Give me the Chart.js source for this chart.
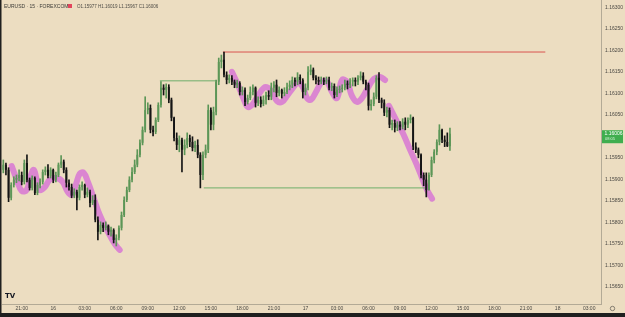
<!DOCTYPE html>
<html>
<head>
<meta charset="utf-8">
<script src="https://cdn.jsdelivr.net/npm/chart.js@4.4.1/dist/chart.umd.min.js"></script>
<style>
  html, body { margin: 0; padding: 0; background: #ecddc1; }
  #wrap { width: 625px; height: 317px; position: relative; }
</style>
</head>
<body>
<div id="wrap"><canvas id="priceChart"></canvas></div>
<script>
// EURUSD 15m candles, first bar = day 15 19:15
const opens = [
  1.15922, 1.15934, 1.15922, 1.15857, 1.15887, 1.15899, 1.15903, 1.15910, 1.15894, 1.15938,
  1.15899, 1.15880, 1.15903, 1.15868, 1.15887, 1.15894, 1.15917, 1.15922, 1.15908, 1.15922,
  1.15899, 1.15910, 1.15934, 1.15941, 1.15922, 1.15892, 1.15882, 1.15862, 1.15871, 1.15857,
  1.15882, 1.15887, 1.15864, 1.15871, 1.15845, 1.15852, 1.15806, 1.15778, 1.15794, 1.15787,
  1.15792, 1.15778, 1.15782, 1.15759, 1.15764, 1.15787, 1.15817, 1.15852, 1.15875, 1.15899,
  1.15917, 1.15934, 1.15957, 1.15985, 1.16015, 1.16061, 1.16066, 1.16015, 1.16010, 1.16038,
  1.16073, 1.16113, 1.16108, 1.16115, 1.16085, 1.16043, 1.15996, 1.15980, 1.15992, 1.15969,
  1.15980, 1.15996, 1.15987, 1.15973, 1.15980, 1.15957, 1.15910, 1.15957, 1.15969, 1.16061,
  1.16027, 1.16057, 1.16127, 1.16173, 1.16178, 1.16143, 1.16131, 1.16136, 1.16127, 1.16120,
  1.16124, 1.16103, 1.16108, 1.16080, 1.16089, 1.16103, 1.16113, 1.16078, 1.16085, 1.16075,
  1.16085, 1.16096, 1.16092, 1.16113, 1.16120, 1.16101, 1.16108, 1.16099, 1.16103, 1.16115,
  1.16120, 1.16131, 1.16127, 1.16138, 1.16131, 1.16103, 1.16113, 1.16150, 1.16155, 1.16136,
  1.16131, 1.16127, 1.16131, 1.16127, 1.16131, 1.16113, 1.16117, 1.16096, 1.16108, 1.16110,
  1.16113, 1.16122, 1.16120, 1.16127, 1.16131, 1.16127, 1.16136, 1.16141, 1.16127, 1.16120,
  1.16071, 1.16075, 1.16092, 1.16136, 1.16085, 1.16078, 1.16055, 1.16061, 1.16027, 1.16031,
  1.16020, 1.16027, 1.16022, 1.16034, 1.16027, 1.16038, 1.16043, 1.15976, 1.15969, 1.15957,
  1.15910, 1.15899, 1.15875, 1.15910, 1.15945, 1.15964, 1.15987, 1.16015, 1.15992, 1.15987,
  1.15977
];
const highs = [
  1.15945, 1.15938, 1.15927, 1.15892, 1.15906, 1.15910, 1.15922, 1.15917, 1.15945, 1.15957,
  1.15903, 1.15908, 1.15906, 1.15892, 1.15901, 1.15922, 1.15929, 1.15934, 1.15927, 1.15924,
  1.15917, 1.15938, 1.15955, 1.15945, 1.15927, 1.15899, 1.15889, 1.15878, 1.15875, 1.15887,
  1.15894, 1.15889, 1.15880, 1.15875, 1.15862, 1.15864, 1.15813, 1.15801, 1.15799, 1.15801,
  1.15794, 1.15789, 1.15785, 1.15771, 1.15792, 1.15824, 1.15859, 1.15882, 1.15906, 1.15927,
  1.15945, 1.15969, 1.15992, 1.16022, 1.16092, 1.16078, 1.16073, 1.16024, 1.16043, 1.16078,
  1.16127, 1.16120, 1.16122, 1.16120, 1.16089, 1.16045, 1.16008, 1.16001, 1.15996, 1.15992,
  1.16008, 1.16003, 1.15999, 1.15989, 1.15992, 1.15962, 1.15964, 1.15980, 1.16073, 1.16066,
  1.16068, 1.16131, 1.16182, 1.16189, 1.16196, 1.16150, 1.16143, 1.16141, 1.16131, 1.16131,
  1.16127, 1.16115, 1.16113, 1.16096, 1.16115, 1.16120, 1.16115, 1.16092, 1.16092, 1.16094,
  1.16103, 1.16106, 1.16124, 1.16127, 1.16131, 1.16115, 1.16110, 1.16113, 1.16124, 1.16129,
  1.16138, 1.16136, 1.16148, 1.16143, 1.16134, 1.16122, 1.16162, 1.16166, 1.16159, 1.16141,
  1.16138, 1.16138, 1.16136, 1.16138, 1.16138, 1.16124, 1.16122, 1.16115, 1.16117, 1.16120,
  1.16131, 1.16129, 1.16134, 1.16136, 1.16136, 1.16141, 1.16150, 1.16148, 1.16131, 1.16124,
  1.16085, 1.16101, 1.16141, 1.16148, 1.16089, 1.16085, 1.16068, 1.16066, 1.16038, 1.16038,
  1.16034, 1.16034, 1.16041, 1.16043, 1.16043, 1.16050, 1.16045, 1.15985, 1.15973, 1.15959,
  1.15915, 1.15915, 1.15915, 1.15952, 1.15969, 1.15992, 1.16027, 1.16017, 1.16001, 1.16008,
  1.16019
];
const lows = [
  1.15915, 1.15910, 1.15848, 1.15852, 1.15882, 1.15892, 1.15896, 1.15887, 1.15889, 1.15894,
  1.15875, 1.15875, 1.15864, 1.15864, 1.15880, 1.15889, 1.15910, 1.15903, 1.15903, 1.15892,
  1.15894, 1.15906, 1.15927, 1.15915, 1.15882, 1.15875, 1.15857, 1.15857, 1.15829, 1.15852,
  1.15875, 1.15857, 1.15859, 1.15836, 1.15841, 1.15801, 1.15759, 1.15773, 1.15778, 1.15782,
  1.15771, 1.15768, 1.15752, 1.15745, 1.15759, 1.15782, 1.15813, 1.15848, 1.15871, 1.15894,
  1.15913, 1.15929, 1.15952, 1.15980, 1.16010, 1.16052, 1.16008, 1.16001, 1.16006, 1.16034,
  1.16068, 1.16096, 1.16089, 1.16078, 1.16036, 1.15989, 1.15969, 1.15964, 1.15917, 1.15957,
  1.15973, 1.15976, 1.15966, 1.15964, 1.15950, 1.15880, 1.15899, 1.15950, 1.15962, 1.16015,
  1.16015, 1.16050, 1.16120, 1.16159, 1.16138, 1.16122, 1.16124, 1.16120, 1.16113, 1.16113,
  1.16096, 1.16096, 1.16071, 1.16075, 1.16085, 1.16096, 1.16068, 1.16071, 1.16068, 1.16071,
  1.16075, 1.16085, 1.16085, 1.16103, 1.16092, 1.16094, 1.16089, 1.16094, 1.16099, 1.16108,
  1.16113, 1.16117, 1.16120, 1.16122, 1.16089, 1.16096, 1.16108, 1.16143, 1.16131, 1.16122,
  1.16120, 1.16122, 1.16120, 1.16122, 1.16108, 1.16106, 1.16089, 1.16092, 1.16101, 1.16103,
  1.16108, 1.16110, 1.16113, 1.16117, 1.16117, 1.16120, 1.16131, 1.16122, 1.16108, 1.16061,
  1.16061, 1.16071, 1.16087, 1.16078, 1.16066, 1.16048, 1.16045, 1.16020, 1.16015, 1.16010,
  1.16013, 1.16015, 1.16017, 1.16015, 1.16020, 1.16031, 1.15969, 1.15962, 1.15950, 1.15903,
  1.15885, 1.15859, 1.15875, 1.15906, 1.15938, 1.15957, 1.15980, 1.15985, 1.15976, 1.15976,
  1.15967
];
const closes = [
  1.15934, 1.15922, 1.15857, 1.15887, 1.15899, 1.15903, 1.15910, 1.15894, 1.15938, 1.15899,
  1.15880, 1.15903, 1.15868, 1.15887, 1.15894, 1.15917, 1.15922, 1.15908, 1.15922, 1.15899,
  1.15910, 1.15934, 1.15941, 1.15922, 1.15892, 1.15882, 1.15862, 1.15871, 1.15857, 1.15882,
  1.15887, 1.15864, 1.15871, 1.15845, 1.15852, 1.15806, 1.15778, 1.15794, 1.15787, 1.15792,
  1.15778, 1.15782, 1.15759, 1.15764, 1.15787, 1.15817, 1.15852, 1.15875, 1.15899, 1.15917,
  1.15934, 1.15957, 1.15985, 1.16015, 1.16061, 1.16066, 1.16015, 1.16010, 1.16038, 1.16073,
  1.16113, 1.16108, 1.16115, 1.16085, 1.16043, 1.15996, 1.15980, 1.15992, 1.15969, 1.15980,
  1.15996, 1.15987, 1.15973, 1.15980, 1.15957, 1.15910, 1.15957, 1.15969, 1.16061, 1.16027,
  1.16057, 1.16127, 1.16173, 1.16178, 1.16143, 1.16131, 1.16136, 1.16127, 1.16120, 1.16124,
  1.16103, 1.16108, 1.16080, 1.16089, 1.16103, 1.16113, 1.16078, 1.16085, 1.16075, 1.16085,
  1.16096, 1.16092, 1.16113, 1.16120, 1.16101, 1.16108, 1.16099, 1.16103, 1.16115, 1.16120,
  1.16131, 1.16127, 1.16138, 1.16131, 1.16103, 1.16113, 1.16150, 1.16155, 1.16136, 1.16131,
  1.16127, 1.16131, 1.16127, 1.16131, 1.16113, 1.16117, 1.16096, 1.16108, 1.16110, 1.16113,
  1.16122, 1.16120, 1.16127, 1.16131, 1.16127, 1.16136, 1.16141, 1.16127, 1.16120, 1.16071,
  1.16075, 1.16092, 1.16136, 1.16085, 1.16078, 1.16055, 1.16061, 1.16027, 1.16031, 1.16020,
  1.16027, 1.16022, 1.16034, 1.16027, 1.16038, 1.16043, 1.15976, 1.15969, 1.15957, 1.15910,
  1.15899, 1.15875, 1.15910, 1.15945, 1.15964, 1.15987, 1.16015, 1.15992, 1.15987, 1.15977,
  1.16006
];

// bar slots on the time axis (15 min each) and the 3-hourly tick marks
const slotCount = 228;
const timeTickSlots = [7, 19, 31, 43, 55, 67, 79, 91, 103, 115, 127, 139, 151, 163, 175, 187, 199, 211, 223];
const timeTickLabels = ['21:00', '16', '03:00', '06:00', '09:00', '12:00', '15:00', '18:00', '21:00',
  '17', '03:00', '06:00', '09:00', '12:00', '15:00', '18:00', '21:00', '18', '03:00'];
const priceTicks = [1.1565, 1.157, 1.1575, 1.158, 1.1585, 1.159, 1.1595,
  1.1605, 1.161, 1.1615, 1.162, 1.1625, 1.163];

// drawn levels: [startSlot, endSlot, price]
const resistanceLine = [83.6, 206.3, 1.16196];
const rangeTopLine = [59.6, 81.3, 1.16129];
const rangeBottomLine = [76.3, 160.5, 1.15880];

// freehand highlighter strokes: slot positions and prices
const stroke1Slots = [3.2, 5.1, 7.0, 8.9, 10.4, 11.6, 12.7, 13.9, 15.8, 17.7, 20.3, 22.6, 24.5, 26.1,
  27.6, 29.1, 30.6, 32.2, 34.1, 36.7, 39.8, 42.4, 44.3];
const stroke1Prices = [1.15931, 1.15899, 1.15873, 1.15875, 1.15908, 1.15922, 1.15899, 1.15875, 1.15882,
  1.15899, 1.15903, 1.15894, 1.15871, 1.15864, 1.15887, 1.15913, 1.15915, 1.15894, 1.15862, 1.15817,
  1.15778, 1.15750, 1.15736];
const stroke2Slots = [87.0, 89.3, 91.6, 93.1, 95.0, 96.9, 99.2, 100.7, 102.2, 104.2, 106.1, 108.0, 110.3,
  112.2, 114.1, 115.6, 117.1, 119.0, 121.3, 123.2, 125.1, 127.0, 128.9, 130.8, 132.7, 134.6, 136.5,
  138.8, 141.1, 143.4, 145.3];
const stroke2Prices = [1.16150, 1.16120, 1.16085, 1.16068, 1.16075, 1.16094, 1.16113, 1.16113, 1.16103,
  1.16082, 1.16080, 1.16094, 1.16113, 1.16124, 1.16113, 1.16089, 1.16085, 1.16103, 1.16127, 1.16127,
  1.16103, 1.16089, 1.16131, 1.16127, 1.16094, 1.16080, 1.16089, 1.16113, 1.16134, 1.16138, 1.16131];
const stroke3Slots = [146.8, 149.5, 152.2, 154.8, 157.1, 159.4, 161.3, 163.2];
const stroke3Prices = [1.16071, 1.16038, 1.16006, 1.15969, 1.15938, 1.15903, 1.15875, 1.15855];

const BG = '#ecddc1';
const BULL = '#5c9657';
const BEAR = '#151515';
const PINK = 'rgba(214, 104, 214, 0.75)';

const candleColors = closes.map((c, i) => c >= opens[i] ? BULL : BEAR);
const wickData = lows.map((l, i) => ({ x: i, y: [l, highs[i]] }));
const bodyData = closes.map((c, i) => ({ x: i, y: [Math.min(opens[i], c), Math.max(opens[i], c)] }));
const strokeData = (xs, ys) => xs.map((x, i) => ({ x: x, y: ys[i] }));
const levelData = l => [{ x: l[0], y: l[2] }, { x: l[1], y: l[2] }];

const decorPlugin = {
  id: 'decor',
  beforeDraw(chart) {
    const ctx = chart.ctx;
    ctx.save();
    ctx.fillStyle = BG;
    ctx.fillRect(0, 0, chart.width, chart.height);
    ctx.restore();
  },
  afterDraw(chart) {
    const ctx = chart.ctx;
    const y = chart.scales.y;
    ctx.save();

    // header
    ctx.textBaseline = 'middle';
    ctx.fillStyle = '#3b3a36';
    ctx.font = '5px "Liberation Sans", Arial, sans-serif';
    ctx.fillText('EURUSD · 15 · FOREXCOM', 4, 6.5);
    ctx.fillStyle = '#e2445c';
    ctx.fillRect(68, 4, 4, 4);
    ctx.fillStyle = '#4d4b45';
    ctx.font = '4.5px "Liberation Sans", Arial, sans-serif';
    ctx.fillText('O1.15977 H1.16019 L1.15967 C1.16006', 77, 6.5);

    // last price tag
    const last = closes[closes.length - 1];
    const py = y.getPixelForValue(last);
    ctx.fillStyle = '#3fae4f';
    ctx.fillRect(602, py - 3.5, 21, 13);
    ctx.fillStyle = '#ffffff';
    ctx.font = '5px "Liberation Sans", Arial, sans-serif';
    ctx.fillText(last.toFixed(5), 604.5, py);
    ctx.fillStyle = '#d6f0d8';
    ctx.font = '4px "Liberation Sans", Arial, sans-serif';
    ctx.fillText('08:05', 605, py + 5.5);

    // logo
    ctx.fillStyle = '#131722';
    ctx.font = 'bold 7px "DejaVu Sans", sans-serif';
    ctx.fillText('TV', 5, 296);

    // settings gear
    ctx.strokeStyle = '#6b665c';
    ctx.lineWidth = 0.8;
    ctx.beginPath();
    ctx.arc(612.5, 308.5, 2.2, 0, Math.PI * 2);
    ctx.stroke();

    // screenshot frame
    ctx.fillStyle = '#1f1f1f';
    ctx.fillRect(0, 313, chart.width, 4);
    ctx.fillRect(0, 0, 1.5, 313);
    ctx.restore();
  }
};

Chart.defaults.font.family = '"Liberation Sans", Arial, sans-serif';

new Chart(document.getElementById('priceChart').getContext('2d'), {
  type: 'bar',
  data: {
    datasets: [
      {
        type: 'line', data: strokeData(stroke1Slots, stroke1Prices), borderColor: PINK,
        borderWidth: 6, borderCapStyle: 'round', borderJoinStyle: 'round', tension: 0.4,
        pointRadius: 0, order: 5
      },
      {
        type: 'line', data: strokeData(stroke2Slots, stroke2Prices), borderColor: PINK,
        borderWidth: 6, borderCapStyle: 'round', borderJoinStyle: 'round', tension: 0.4,
        pointRadius: 0, order: 5
      },
      {
        type: 'line', data: strokeData(stroke3Slots, stroke3Prices), borderColor: PINK,
        borderWidth: 6, borderCapStyle: 'round', borderJoinStyle: 'round', tension: 0.4,
        pointRadius: 0, order: 5
      },
      { type: 'line', data: levelData(resistanceLine), borderColor: '#d9534f', borderWidth: 1, pointRadius: 0, order: 4 },
      { type: 'line', data: levelData(rangeTopLine), borderColor: '#6fae6a', borderWidth: 1, pointRadius: 0, order: 4 },
      { type: 'line', data: levelData(rangeBottomLine), borderColor: '#6fae6a', borderWidth: 1, pointRadius: 0, order: 4 },
      {
        label: 'wicks', data: wickData, backgroundColor: candleColors,
        barThickness: 1, grouped: false, order: 2
      },
      {
        label: 'bodies', data: bodyData, backgroundColor: candleColors,
        barPercentage: 0.72, categoryPercentage: 1, minBarLength: 1, grouped: false, order: 1
      }
    ]
  },
  options: {
    responsive: true,
    maintainAspectRatio: false,
    animation: false,
    layout: { padding: { left: 2, right: 0, top: 0, bottom: 4 } },
    scales: {
      x: {
        type: 'linear',
        position: 'bottom',
        min: -0.5,
        max: slotCount - 0.5,
        offset: false,
        grid: { display: false, drawTicks: false },
        border: { color: '#b3aa96' },
        afterFit: s => { s.height = 9; s.paddingLeft = 0; s.paddingRight = 0; },
        afterBuildTicks: s => { s.ticks = timeTickSlots.map(v => ({ value: v })); },
        ticks: {
          autoSkip: false,
          maxRotation: 0,
          padding: 2,
          color: '#4a4843',
          font: { size: 5 },
          callback: (v, i) => timeTickLabels[i]
        }
      },
      y: {
        position: 'right',
        min: 1.15610,
        max: 1.16317,
        grid: { display: false, drawTicks: false },
        border: { color: '#b3aa96' },
        afterFit: s => { s.width = 24; s.paddingTop = 0; s.paddingBottom = 0; },
        afterBuildTicks: s => { s.ticks = priceTicks.map(v => ({ value: v })); },
        ticks: {
          autoSkip: false,
          padding: 4,
          color: '#4a4843',
          font: { size: 5 },
          callback: v => v.toFixed(5)
        }
      }
    },
    plugins: {
      legend: { display: false },
      tooltip: { enabled: false }
    }
  },
  plugins: [decorPlugin]
});
</script>
</body>
</html>
